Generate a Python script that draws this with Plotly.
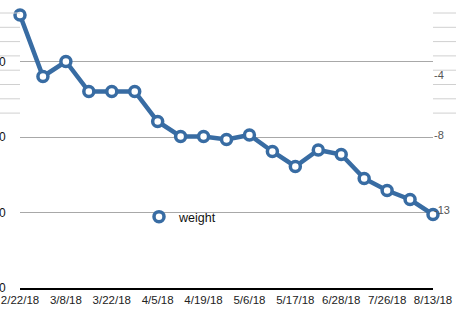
import plotly.graph_objects as go

dates = ["2/22/18", "3/1/18", "3/8/18", "3/15/18", "3/22/18", "3/29/18", "4/5/18",
         "4/12/18", "4/19/18", "4/26/18", "5/6/18", "5/12/18", "5/17/18", "6/7/18",
         "6/28/18", "7/12/18", "7/26/18", "8/3/18", "8/13/18"]
weight = [0, -4.1, -3.1, -5.1, -5.1, -5.1, -7.1, -8.1, -8.1, -8.3, -8.0,
          -9.1, -10.1, -9.0, -9.3, -10.9, -11.7, -12.3, -13.3]
label_dates = dates[::2]
left_ticks = [0, 10, 20, 30]
left_tick_labels = ["0", "0", "0", "0"]   # only the last digit is visible in the source
right_ticks = [-4, -8, -13]
right_text = ["-4", "-8", "-13"]
minor_marks = [0, 1, 2, 3, 4, 5, 6, 7]   # faint background tick marks (index)

BLUE = "#386ca3"
PLOT_H = 288
MINOR_TOP = 13      # px from top of first faint mark
MINOR_STEP = 14.3   # px between faint marks

fig = go.Figure()
# invisible anchor trace so the left (grid) axis gets drawn
fig.add_trace(go.Scatter(
    x=[dates[0], dates[-1]], y=[left_ticks[0], left_ticks[-1]], mode="markers",
    yaxis="y", showlegend=False, hoverinfo="skip",
    marker=dict(size=1, opacity=0),
))
fig.add_trace(go.Scatter(
    x=dates, y=weight, mode="lines+markers", yaxis="y2", showlegend=False,
    line=dict(color=BLUE, width=4.5),
    marker=dict(symbol="circle", size=10, color="white", line=dict(color=BLUE, width=3.5)),
    cliponaxis=False,
))
fig.add_trace(go.Scatter(
    x=[dates[0]], y=[None], mode="markers", name="weight", yaxis="y2",
    marker=dict(symbol="circle", size=10, color="white", line=dict(color=BLUE, width=3.5)),
))

shapes = []
for k in minor_marks:
    yp = (PLOT_H - (MINOR_TOP + MINOR_STEP * k)) / PLOT_H
    shapes.append(dict(type="line", xref="paper", yref="paper", x0=-0.05, x1=0.0,
                       y0=yp, y1=yp, line=dict(color="#d0d0d0", width=1)))
    shapes.append(dict(type="line", xref="paper", yref="paper", x0=1.0, x1=1.06,
                       y0=yp, y1=yp, line=dict(color="#d0d0d0", width=1)))

fig.update_layout(
    width=456, height=322,
    margin=dict(l=20, r=23, t=0, b=34),
    template="none",
    plot_bgcolor="white", paper_bgcolor="white",
    font=dict(family="Liberation Sans, Arial, sans-serif", size=12, color="#222"),
    xaxis=dict(
        type="category", categoryorder="array", categoryarray=dates,
        range=[0, len(dates) - 1],
        tickvals=label_dates, ticktext=label_dates,
        showgrid=False, zeroline=False,
        showline=True, linecolor="black", linewidth=1.5,
        ticks="", tickfont=dict(size=11.5, color="#222"),
    ),
    yaxis=dict(
        range=[0, 38.15], tickvals=left_ticks, ticktext=left_tick_labels,
        showgrid=True, gridcolor="#a8a8a8", gridwidth=1,
        zeroline=False, showline=False,
        ticks="outside", ticklen=11, tickcolor="rgba(0,0,0,0)",
        tickfont=dict(size=12, color="#111"), automargin=False,
    ),
    yaxis2=dict(
        overlaying="y", side="right", range=[-18.2, 1.0],
        tickvals=right_ticks, ticktext=right_text,
        showgrid=False, zeroline=False, showline=False,
        ticks="", tickfont=dict(size=11, color="#555"), automargin=False,
    ),
    shapes=shapes,
    legend=dict(x=(139 - 20) / 413, y=(288 - 217) / 288, xanchor="left", yanchor="middle",
                bgcolor="rgba(0,0,0,0)", font=dict(size=12.5, color="#111")),
)

fig.write_html("out.html")
